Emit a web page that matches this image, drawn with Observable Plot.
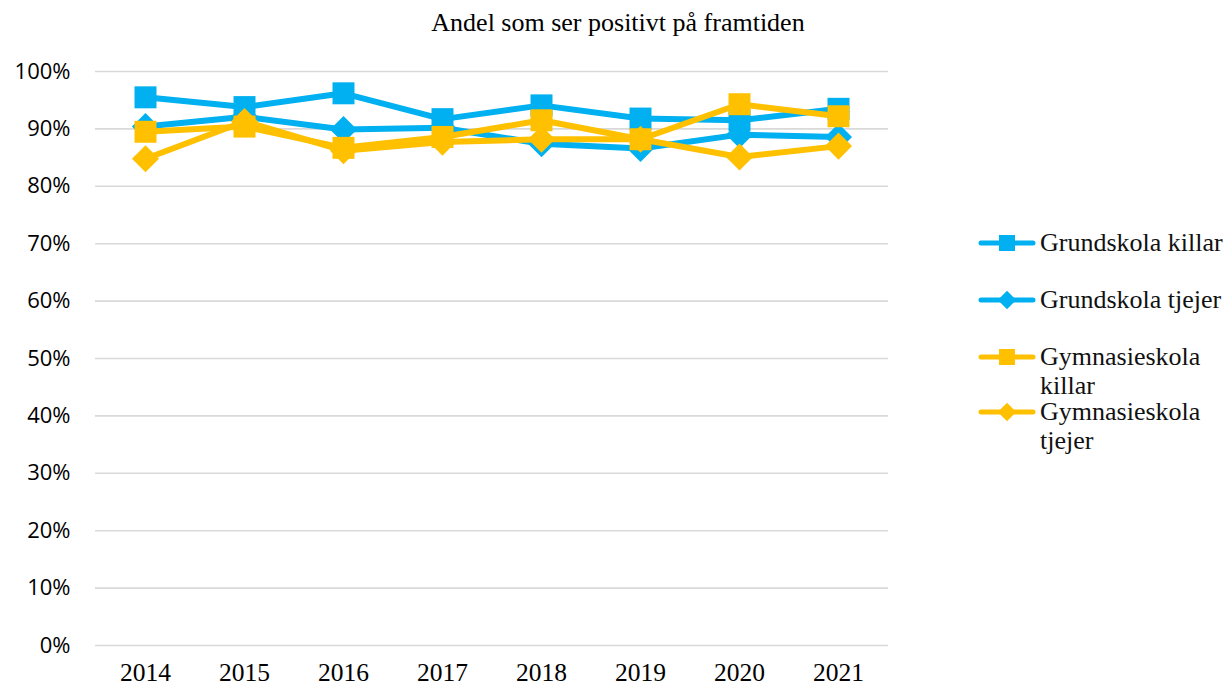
<!DOCTYPE html>
<html>
<head>
<meta charset="utf-8">
<script src="https://cdn.jsdelivr.net/npm/d3@7"></script>
<script src="https://cdn.jsdelivr.net/npm/@observablehq/plot@0.6"></script>
<style>
  html, body { margin: 0; padding: 0; background: #fff; }
  #wrap { position: relative; width: 1228px; height: 687px; overflow: hidden; }
  #title { position: absolute; left: 0; top: 8px; width: 1236px; text-align: center;
           font-family: "Liberation Serif", "Times New Roman", serif; font-size: 26px; line-height: 30px; color: #000; }
  #chart { position: absolute; left: 0; top: 45px; }
  #legend { position: absolute; left: 978px; top: 0; width: 250px;
            font-family: "Liberation Serif", "Times New Roman", serif; font-size: 26px; line-height: 29px; color: #111; }
  .item { position: absolute; left: 0; width: 250px; }
  .item svg { position: absolute; left: 0; top: 0; }
  .item span { position: absolute; left: 62px; top: 0; width: 185px; display: block; }
</style>
</head>
<body>
<div id="wrap">
  <div id="title">Andel som ser positivt på framtiden</div>
  <div id="chart"></div>
  <div id="legend"></div>
</div>
<script>
const years = ["2014", "2015", "2016", "2017", "2018", "2019", "2020", "2021"];
const seriesNames = ["Grundskola killar", "Grundskola tjejer", "Gymnasieskola killar", "Gymnasieskola tjejer"];
const grundskolaKillar   = [0.955, 0.938, 0.962, 0.917, 0.941, 0.918, 0.915, 0.935];
const grundskolaTjejer   = [0.904, 0.921, 0.899, 0.902, 0.874, 0.866, 0.890, 0.886];
const gymnasieKillar     = [0.895, 0.904, 0.867, 0.886, 0.915, 0.882, 0.943, 0.922];
const gymnasieTjejer     = [0.848, 0.913, 0.862, 0.877, 0.882, 0.882, 0.851, 0.870];
const seriesColors = ["#00B0F0", "#00B0F0", "#FFC000", "#FFC000"];
const seriesSymbols = ["square", "diamond", "square", "diamond"];
const yTicks = [0, 0.1, 0.2, 0.3, 0.4, 0.5, 0.6, 0.7, 0.8, 0.9, 1.0];

const allValues = [grundskolaKillar, grundskolaTjejer, gymnasieKillar, gymnasieTjejer];
const data = [];
allValues.forEach((vals, i) => {
  vals.forEach((v, j) => data.push({series: seriesNames[i], year: years[j], value: v}));
});

const marks = [
  Plot.ruleY(yTicks, {stroke: "#d9d9d9", strokeWidth: 1.6}),
  Plot.axisY({ticks: yTicks, tickSize: 0, tickPadding: 25, tickFormat: d => Math.round(d * 100) + "%",
              fontFamily: "Open Sans, sans-serif", fontSize: 22, fill: "#000", label: null}),
  Plot.axisX({tickSize: 0, tickPadding: 17, fontFamily: "Liberation Serif, serif", fontSize: 25.5, fill: "#000", label: null})
];
seriesNames.forEach((name, i) => {
  const d = data.filter(r => r.series === name);
  marks.push(Plot.line(d, {x: "year", y: "value", stroke: seriesColors[i], strokeWidth: 6, strokeLinejoin: "round", strokeLinecap: "round"}));
  if (seriesSymbols[i] === "square") {
    marks.push(Plot.dot(d, {x: "year", y: "value", symbol: "square", r: 12.4, fill: seriesColors[i], stroke: "none"}));
  } else {
    marks.push(Plot.dot(d, {x: "year", y: "value", symbol: "square", r: 10.8, rotate: 45, fill: seriesColors[i], stroke: "none"}));
  }
});

const chart = Plot.plot({
  width: 1228,
  height: 642,
  marginTop: 26,
  marginBottom: 42,
  marginLeft: 95,
  marginRight: 340,
  x: {type: "point", domain: years, padding: 0.5},
  y: {domain: [0, 1]},
  style: {background: "#fff", overflow: "visible"},
  marks
});
document.getElementById("chart").appendChild(chart);

// Legend
const legendTops = [228, 285, 342, 397];
const legend = document.getElementById("legend");
seriesNames.forEach((name, i) => {
  const item = document.createElement("div");
  item.className = "item";
  item.style.top = legendTops[i] + "px";
  const cy = 15;
  let marker;
  if (seriesSymbols[i] === "square") {
    marker = `<rect x="${29 - 8}" y="${cy - 8}" width="16" height="16" fill="${seriesColors[i]}"/>`;
  } else {
    marker = `<rect x="${29 - 6.5}" y="${cy - 6.5}" width="13" height="13" fill="${seriesColors[i]}" transform="rotate(45 29 ${cy})"/>`;
  }
  item.innerHTML = `<svg width="60" height="30"><line x1="3" x2="55" y1="${cy}" y2="${cy}" stroke="${seriesColors[i]}" stroke-width="5" stroke-linecap="round"/>${marker}</svg><span>${name}</span>`;
  legend.appendChild(item);
});
</script>
</body>
</html>
